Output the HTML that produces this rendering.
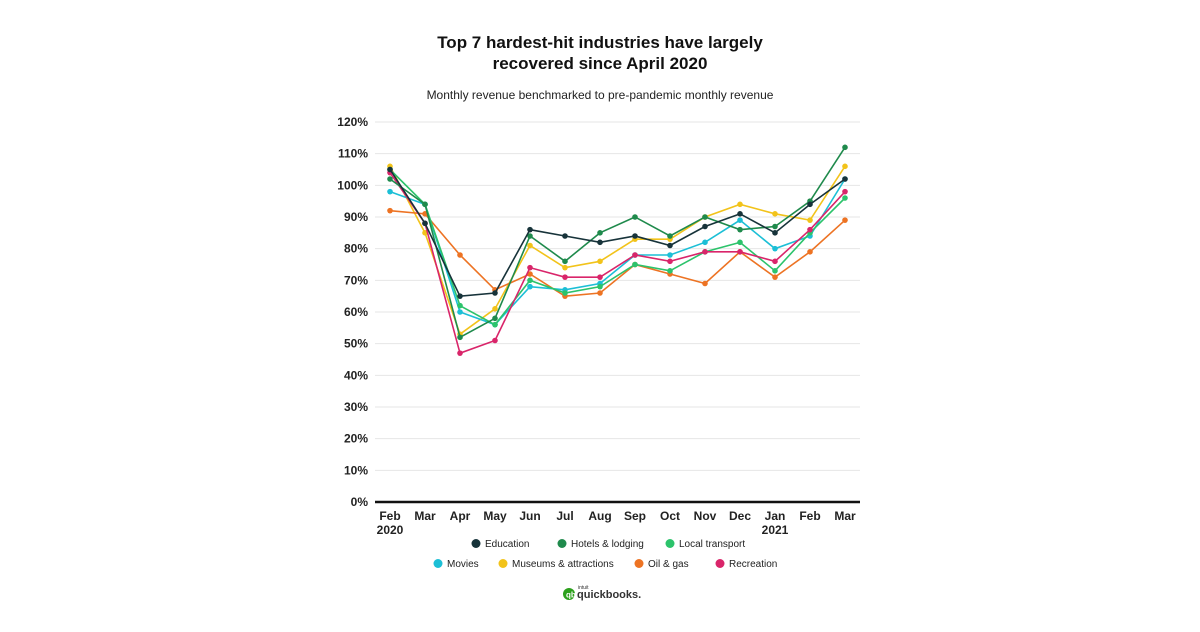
<!DOCTYPE html><html><head><meta charset="utf-8"><style>body{margin:0;background:#fff;font-family:"Liberation Sans",sans-serif}</style></head><body>
<svg width="1200" height="627" viewBox="0 0 1200 627" xmlns="http://www.w3.org/2000/svg" font-family="Liberation Sans, sans-serif">
<text x="600" y="48" text-anchor="middle" font-size="17" font-weight="bold" fill="#111">Top 7 hardest-hit industries have largely</text>
<text x="600" y="69" text-anchor="middle" font-size="17" font-weight="bold" fill="#111">recovered since April 2020</text>
<text x="600" y="99" text-anchor="middle" font-size="12" fill="#222">Monthly revenue benchmarked to pre-pandemic monthly revenue</text>
<g id="grid"></g>
<g id="series"></g>
<line x1="375" y1="502" x2="860" y2="502" stroke="#111" stroke-width="2.5"/>
<g font-size="12" font-weight="bold" fill="#222" text-anchor="middle" id="xl"></g>
<g font-size="10" fill="#222" id="leg"></g>
<circle cx="569" cy="594" r="6" fill="#2ca01c"/><text x="566" y="597.5" font-size="8" fill="#fff" font-weight="bold">qb</text>
<text x="577" y="598" font-size="11" font-weight="bold" fill="#333">quickbooks.</text>
<text x="578" y="589" font-size="5" fill="#333">intuit</text>
</svg>
<script>
const ns="http://www.w3.org/2000/svg";
function el(t,a,p,txt){const e=document.createElementNS(ns,t);for(const k in a)e.setAttribute(k,a[k]);if(txt!==undefined)e.textContent=txt;document.getElementById(p).appendChild(e);return e;}
const Y=v=>502-v*3.1667, X=i=>390+i*35;
for(let v=0;v<=120;v+=10){if(v>0)el('line',{x1:375,x2:860,y1:Y(v),y2:Y(v),stroke:'#e6e6e6','stroke-width':1},'grid');el('text',{x:368,y:Y(v)+4,'text-anchor':'end','font-size':12,'font-weight':'bold',fill:'#222'},'grid',v+'%');}
const m=['Feb','Mar','Apr','May','Jun','Jul','Aug','Sep','Oct','Nov','Dec','Jan','Feb','Mar'];
m.forEach((t,i)=>el('text',{x:X(i),y:520},'xl',t));
el('text',{x:X(0),y:534},'xl','2020');el('text',{x:X(11),y:534},'xl','2021');
const S=[
['#f2c31a',[106,85,53,61,81,74,76,83,83,90,94,91,89,106]],
['#ed7323',[92,91,78,67,72,65,66,75,72,69,79,71,79,89]],
['#1cbfd6',[98,94,60,56,68,67,69,78,78,82,89,80,84,102]],
['#2cc36b',[105,94,62,56,70,66,68,75,73,79,82,73,85,96]],
['#d9256a',[104,88,47,51,74,71,71,78,76,79,79,76,86,98]],
['#1f8a4c',[102,94,52,58,84,76,85,90,84,90,86,87,95,112]],
['#17333a',[105,88,65,66,86,84,82,84,81,87,91,85,94,102]]];
S.forEach(([c,d])=>{el('polyline',{points:d.map((v,i)=>X(i)+','+Y(v)).join(' '),fill:'none',stroke:c,'stroke-width':1.6},'series');d.forEach((v,i)=>el('circle',{cx:X(i),cy:Y(v),r:2.8,fill:c},'series'));});
const L=[[476,547,'#17333a','Education'],[562,547,'#1f8a4c','Hotels & lodging'],[670,547,'#2cc36b','Local transport'],[438,567,'#1cbfd6','Movies'],[503,567,'#f2c31a','Museums & attractions'],[639,567,'#ed7323','Oil & gas'],[720,567,'#d9256a','Recreation']];
L.forEach(([x,y,c,t])=>{el('circle',{cx:x,cy:y-3.5,r:4.5,fill:c},'leg');el('text',{x:x+9,y:y},'leg',t);});
</script>
</body></html>
